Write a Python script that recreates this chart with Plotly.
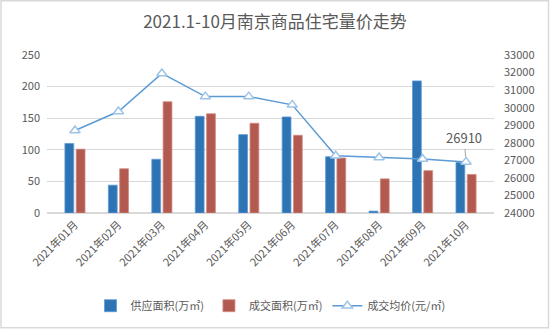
import plotly.graph_objects as go

months = ["2021年01月", "2021年02月", "2021年03月", "2021年04月", "2021年05月",
          "2021年06月", "2021年07月", "2021年08月", "2021年09月", "2021年10月"]
supply_area = [110, 44, 85, 153, 124, 152, 89, 3, 209, 80]
deal_area = [101, 70, 176, 157, 142, 123, 87, 54, 67, 61]
avg_price = [28700, 29780, 31950, 30630, 30630, 30160, 27260, 27160, 27080, 26910]

FONT = "Noto Sans CJK SC"
GREY = "#595959"
GRID = "#D9D9D9"

fig = go.Figure()
fig.add_trace(go.Bar(
    x=months, y=supply_area, name="供应面积(万㎡)",
    marker=dict(color="#2E74B5", line=dict(color="#5B9BD5", width=0.8)),
))
fig.add_trace(go.Bar(
    x=months, y=deal_area, name="成交面积(万㎡)",
    marker=dict(color="#B35A50", line=dict(color="#D08A82", width=0.8)),
))
fig.add_trace(go.Scatter(
    x=months, y=avg_price, name="成交均价(元/㎡)", yaxis="y2",
    mode="lines+markers",
    line=dict(color="#5B9BD5", width=1.5),
    marker=dict(symbol="triangle-up", size=9, color="white",
                line=dict(color="#9DC3E6", width=1.5)),
))

# value label on the last price point
fig.add_annotation(
    x=months[-1], y=avg_price[-1], yref="y2", text=str(avg_price[-1]),
    showarrow=True, arrowhead=0, arrowcolor="#A6A6A6", arrowwidth=1,
    ax=-2, ay=-24, standoff=5,
    font=dict(family=FONT, size=13, color=GREY),
)

# outer chart frame
L, R, T, B = 47, 494, 55.3, 213.3
W, H = R - L, B - T
fig.add_shape(
    type="rect", xref="paper", yref="paper",
    x0=(1 - L) / W, x1=(548.5 - L) / W,
    y0=(B - 328) / H, y1=(B - 1) / H,
    line=dict(color="#D9D9D9", width=1.5), fillcolor="rgba(0,0,0,0)", layer="below",
)

fig.update_layout(
    width=550, height=331,
    margin=dict(l=L, r=550 - R, t=T, b=331 - B, autoexpand=False),
    paper_bgcolor="white", plot_bgcolor="white",
    title=dict(text="2021.1-10月南京商品住宅量价走势", x=0.5, xanchor="center",
               y=1 - 22 / 331, yanchor="middle",
               font=dict(family=FONT, size=17, color=GREY)),
    font=dict(family=FONT, size=11, color=GREY),
    barmode="group", bargap=0.48, bargroupgap=0.22,
    xaxis=dict(tickangle=-45, showgrid=False, showline=True, linecolor=GRID,
               ticks="", tickfont=dict(family=FONT, size=11, color=GREY)),
    yaxis=dict(range=[0, 250], dtick=50, showgrid=True, gridcolor=GRID,
               zeroline=True, zerolinecolor=GRID, ticks="", ticklabelstandoff=6,
               tickfont=dict(family=FONT, size=11, color=GREY)),
    yaxis2=dict(range=[24000, 33000], dtick=1000, tickformat="d",
                overlaying="y", side="right", ticklabelstandoff=9,
                showgrid=False, zeroline=False, ticks="",
                tickfont=dict(family=FONT, size=11, color=GREY)),
    legend=dict(orientation="h", x=0.5, xanchor="center",
                y=(B - 306) / H, yanchor="middle",
                font=dict(family=FONT, size=11, color=GREY)),
)

fig.write_html("out.html")
